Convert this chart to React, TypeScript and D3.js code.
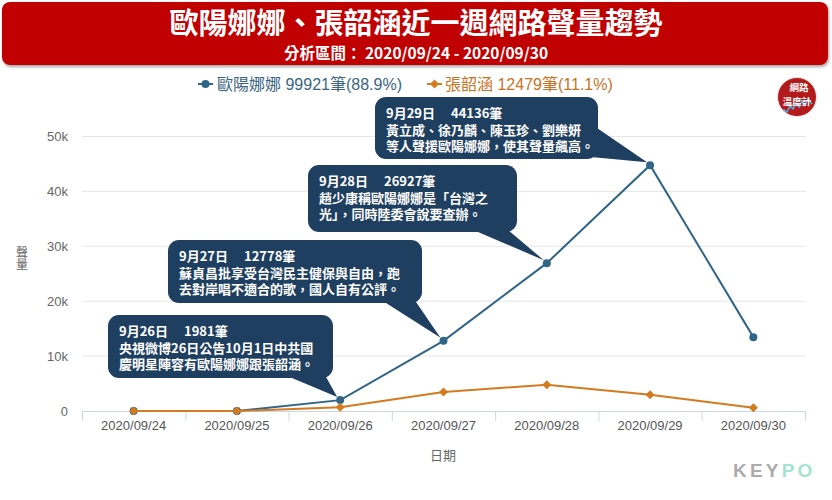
import React from 'react'
import * as d3 from 'd3'

// chart data
const dates = ['2020/09/24', '2020/09/25', '2020/09/26', '2020/09/27', '2020/09/28', '2020/09/29', '2020/09/30']
const ouyangValues = [0, 0, 1981, 12778, 26927, 44780, 13455]
const zhangValues = [0, 0, 670, 3460, 4790, 2960, 599]
const yTicks = [0, 10000, 20000, 30000, 40000, 50000]

const legendLabels = ['歐陽娜娜 99921筆(88.9%)', '張韶涵 12479筆(11.1%)']

const calloutDates = ['2020/09/29', '2020/09/28', '2020/09/27', '2020/09/26']
const calloutLines = [
    ['9月29日\u3000 44136筆', '黃立成、徐乃麟、陳玉珍、劉樂妍', '等人聲援歐陽娜娜，使其聲量飆高。'],
    ['9月28日\u3000 26927筆', '趙少康稱歐陽娜娜是「台灣之', '光」，同時陸委會說要查辦。'],
    ['9月27日\u3000 12778筆', '蘇貞昌批享受台灣民主健保與自由，跑', '去對岸唱不適合的歌，國人自有公評。'],
    ['9月26日\u3000 1981筆', '央視微博26日公告10月1日中共國', '慶明星陣容有歐陽娜娜跟張韶涵。'],
]

// callout box layout (x, y, w, h, tail base points)
const calloutBoxes = [
    { x: 375, y: 97, w: 223, h: 62, base: [[597, 128], [591, 157]] },
    { x: 308, y: 165, w: 209, h: 67, base: [[478, 232], [508, 230]] },
    { x: 168, y: 240, w: 254, h: 63, base: [[386, 303], [416, 302]] },
    { x: 108, y: 315, w: 225, h: 63, base: [[292, 378], [326, 377]] },
]

const BLUE = '#2f6586'
const ORANGE = '#d47a1f'
const FONT = '"Liberation Sans", "Noto Sans CJK TC", sans-serif'
const CJK = '"Noto Sans CJK TC", "Liberation Sans", sans-serif'

export default function App() {
    const width = 832
    const height = 500
    const left = 82
    const right = 805
    const bottom = 411
    const top = 136.5

    const x = d3.scaleBand().domain(dates).range([left, right])
    const cx = (d: string) => (x(d) as number) + x.bandwidth() / 2
    const y = d3.scaleLinear().domain([0, 50000]).range([bottom, top])

    const line = d3.line<number>()
        .x((d, i) => cx(dates[i]))
        .y(d => y(d))

    const fmt = (v: number) => (v === 0 ? '0' : `${v / 1000}k`)

    const diamond = (px: number, py: number, r: number) =>
        `M${px},${py - r}L${px + r},${py}L${px},${py + r}L${px - r},${py}Z`

    return (
        <div lang="zh-TW" style={{ position: 'absolute', left: 0, top: 0 }}>
        <svg width={width} height={height} lang="zh-TW" style={{ display: 'block', background: '#fff' }}>
            <defs>
                <filter id="shadow" x="-5%" y="-20%" width="110%" height="150%">
                    <feDropShadow dx="1" dy="2" stdDeviation="1.5" floodColor="#000" floodOpacity="0.35" />
                </filter>
                <clipPath id="logoClip">
                    <circle cx={797} cy={97} r={19} />
                </clipPath>
            </defs>

            {/* header banner */}
            <rect x={2} y={2} width={826} height={63} rx={8} fill="#c00000" filter="url(#shadow)" />
            <text x={416} y={34} textAnchor="middle" fill="#fff" fontFamily={CJK} fontWeight="bold" fontSize={29}>
                歐陽娜娜、張韶涵近一週網路聲量趨勢
            </text>
            <text x={416} y={59} textAnchor="middle" fill="#fff" fontFamily={CJK} fontWeight="bold" fontSize={15.5}>
                分析區間： 2020/09/24 - 2020/09/30
            </text>

            {/* legend */}
            <g>
                <line x1={198} x2={213} y1={84} y2={84} stroke={BLUE} strokeWidth={2} />
                <circle cx={205.5} cy={84} r={4} fill={BLUE} />
                <text x={217} y={90} fill="#3a6582" fontFamily={FONT} fontSize={16}>{legendLabels[0]}</text>
                <line x1={427} x2={442} y1={84} y2={84} stroke={ORANGE} strokeWidth={2} />
                <path d={diamond(434.5, 84, 4.5)} fill={ORANGE} />
                <text x={445} y={90} fill="#c8721f" fontFamily={FONT} fontSize={16}>{legendLabels[1]}</text>
            </g>

            {/* logo */}
            <g>
                <circle cx={797} cy={97} r={19.5} fill="#b31a1c" stroke="#e8e8e8" strokeWidth={1} />
                <polyline
                    clipPath="url(#logoClip)"
                    points="780,114 784,110 787,112 790,106 793,109 796,103 799,107 802,101 805,105 808,99 812,104"
                    fill="none" stroke="#5ab0e0" strokeWidth={1.5}
                />
                <text x={799} y={90.5} textAnchor="middle" fill="#fff" fontFamily={CJK} fontWeight="bold" fontSize={9.5}>網路</text>
                <text x={797} y={104.5} textAnchor="middle" fill="#fff" fontFamily={CJK} fontWeight="bold" fontSize={9.5}>溫度計</text>
            </g>

            {/* gridlines and y labels */}
            {yTicks.map(t => (
                <g key={t}>
                    {t > 0 && <line x1={left} x2={right + 1} y1={y(t)} y2={y(t)} stroke="#e6e6e6" strokeWidth={1} />}
                    <text x={68} y={y(t)} dy="0.35em" textAnchor="end" fill="#666" fontFamily={FONT} fontSize={13}>
                        {fmt(t)}
                    </text>
                </g>
            ))}

            {/* x axis */}
            <line x1={left} x2={right} y1={bottom + 0.5} y2={bottom + 0.5} stroke="#ccd6eb" strokeWidth={1} />
            {[...dates.map(d => x(d) as number), right].map((v, i) => (
                <line key={i} x1={v + 0.5} x2={v + 0.5} y1={bottom} y2={bottom + 10} stroke="#ccd6eb" strokeWidth={1} />
            ))}
            {dates.map(d => (
                <text key={d} x={cx(d)} y={430} textAnchor="middle" fill="#555" fontFamily={FONT} fontSize={13}>{d}</text>
            ))}
            <text x={443} y={460} textAnchor="middle" fill="#666" fontFamily={CJK} fontSize={13}>日期</text>
            <text x={22} y={258} textAnchor="middle" fill="#666" fontFamily={CJK} fontSize={12}
                style={{ writingMode: 'vertical-rl', textOrientation: 'upright' }}>聲量</text>

            {/* series */}
            <path d={line(ouyangValues) as string} fill="none" stroke={BLUE} strokeWidth={2} />
            {ouyangValues.map((v, i) => (
                <circle key={i} cx={cx(dates[i])} cy={y(v)} r={4} fill={BLUE} />
            ))}
            <path d={line(zhangValues) as string} fill="none" stroke={ORANGE} strokeWidth={2} />
            {zhangValues.map((v, i) => (
                <path key={i} d={diamond(cx(dates[i]), y(v), 4.5)} fill={ORANGE} />
            ))}

            {/* callouts */}
            {calloutDates.map((d, i) => {
                const b = calloutBoxes[i]
                const idx = dates.indexOf(d)
                const px = cx(d)
                const py = y(ouyangValues[idx])
                const [b1, b2] = b.base
                const tx = px - 3
                const ty = py - 3
                return (
                    <g key={d}>
                        <path d={`M${b1[0]},${b1[1]}L${tx},${ty}L${b2[0]},${b2[1]}Z`} fill="#1f3f60" />
                        <rect x={b.x} y={b.y} width={b.w} height={b.h} rx={11} fill="#1f3f60" />
                        {calloutLines[i].map((t, j) => (
                            <text key={j} lang="zh-TW" x={b.x + 11} y={b.y + 21 + j * 16.5} fill="#fff"
                                fontFamily={CJK} fontWeight="bold" fontSize={13}
                                style={{ whiteSpace: 'pre' }}>{t}</text>
                        ))}
                    </g>
                )
            })}

            {/* KEYPO mark */}
            <text x={733} y={477} fontFamily={FONT} fontWeight="bold" fontSize={19} letterSpacing={3.2}>
                <tspan fill="#ababab">KEY</tspan>
                <tspan fill="#a6e3cf">PO</tspan>
            </text>
        </svg>
        </div>
    )
}
